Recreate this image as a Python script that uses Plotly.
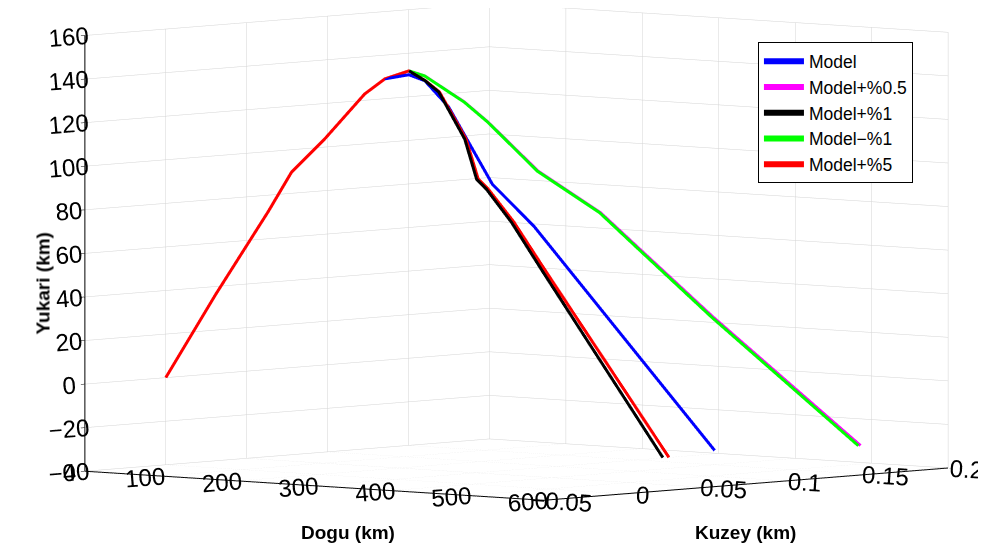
import plotly.graph_objects as go

# ---- data (km) ----
ascent_dogu = [0.0, 65.9, 134.2, 164.4, 207.7, 260.2, 286.5, 318.0]
ascent_kuzey = [0.0, 0.0, 0.0, 0.0, 0.0, 0.0, 0.0, 0.0]
ascent_yukari = [0.0, 40.0, 79.3, 97.9, 114.1, 136.0, 143.5, 147.9]

model_dogu = [318.0, 330.6, 349.3, 384.0, 417.1, 560.0]
model_kuzey = [0.0, 0.0039, 0.0097, 0.0204, 0.0305, 0.0746]
model_yukari = [146.1, 143.4, 131.5, 96.1, 76.9, -25.4]

p1_dogu = [333.2, 346.5, 371.1, 382.4, 392.0, 415.8, 444.3, 560.0]
p1_kuzey = [0.0027, 0.0050, 0.0094, 0.0114, 0.0130, 0.0172, 0.0222, 0.0426]
p1_yukari = [143.6, 138.5, 117.2, 98.9, 94.4, 79.5, 58.2, -26.8]

p5_dogu = [333.2, 346.5, 371.1, 382.4, 392.0, 415.8, 444.3, 560.0]
p5_kuzey = [0.0029, 0.0054, 0.0102, 0.0124, 0.0141, 0.0187, 0.0241, 0.0463]
p5_yukari = [143.6, 138.5, 117.2, 98.9, 94.4, 79.5, 58.2, -26.9]

m1_dogu = [326.5, 347.8, 360.4, 387.2, 420.6, 441.9, 480.5, 560.0]
m1_kuzey = [0.0057, 0.0201, 0.0288, 0.0467, 0.0693, 0.0837, 0.1100, 0.1634]
m1_yukari = [145.4, 133.0, 123.5, 100.6, 81.0, 63.6, 32.1, -28.5]

p05_dogu = [326.5, 347.8, 360.4, 387.2, 420.6, 441.9, 480.5, 560.0]
p05_kuzey = [0.0058, 0.0203, 0.0290, 0.0471, 0.0698, 0.0844, 0.1109, 0.1647]
p05_yukari = [145.4, 133.0, 123.5, 100.6, 81.0, 63.6, 32.1, -28.5]

dogu_ticks = [0, 100, 200, 300, 400, 500, 600]
dogu_labels = ["0", "100", "200", "300", "400", "500", "600"]
kuzey_ticks = [-0.05, 0, 0.05, 0.1, 0.15, 0.2]
kuzey_labels = ["\u22120.05", "0", "0.05", "0.1", "0.15", "0.2"]
yukari_ticks = [-40, -20, 0, 20, 40, 60, 80, 100, 120, 140, 160]
yukari_labels = ["\u221240", "\u221220", "0", "20", "40", "60", "80", "100", "120", "140", "160"]

FONT = "Liberation Sans, Arial, Helvetica, sans-serif"

series = [
    ("Model", "#0000ff", ascent_dogu[:7] + model_dogu, ascent_kuzey[:7] + model_kuzey, ascent_yukari[:7] + model_yukari, 1),
    ("Model+%0.5", "#ff00ff", ascent_dogu + p05_dogu, ascent_kuzey + p05_kuzey, ascent_yukari + p05_yukari, 2),
    ("Model+%1", "#000000", ascent_dogu + p1_dogu, ascent_kuzey + p1_kuzey, ascent_yukari + p1_yukari, 3),
    ("Model\u2212%1", "#00ff00", ascent_dogu + m1_dogu, ascent_kuzey + m1_kuzey, ascent_yukari + m1_yukari, 4),
    ("Model+%5", "#ff0000", ascent_dogu + p5_dogu, ascent_kuzey + p5_kuzey, ascent_yukari + p5_yukari, 5),
]

fig = go.Figure()
for name, color, xs, ys, zs, rank in series:
    fig.add_trace(go.Scatter3d(x=xs, y=ys, z=zs, mode="lines", name=name,
                               line=dict(color=color, width=6), legendrank=rank,
                               hoverinfo="skip"))

axis_common = dict(showbackground=False, gridcolor="#d4d4d4", gridwidth=1,
                   showline=True, linecolor="black", linewidth=2,
                   ticks="outside", tickcolor="black", ticklen=6,
                   zeroline=False, showspikes=False, title=dict(text=""),
                   tickfont=dict(family=FONT, size=17, color="black"))

k = 2.210
cz = -0.1235
fig.update_layout(
    width=986, height=556,
    margin=dict(l=0, r=0, t=0, b=0),
    paper_bgcolor="white",
    font=dict(family=FONT, color="black"),
    scene=dict(
        domain=dict(x=[0.0314, 1.0], y=[0.0, 1.0]),
        xaxis=dict(range=[0, 600], tickvals=dogu_ticks, ticktext=dogu_labels, **axis_common),
        yaxis=dict(range=[-0.05, 0.2], tickvals=kuzey_ticks, ticktext=kuzey_labels, **axis_common),
        zaxis=dict(range=[-40, 160], tickvals=yukari_ticks, ticktext=yukari_labels, **axis_common),
        aspectmode="manual",
        aspectratio=dict(x=1.0 * k, y=0.99 * k, z=0.711 * k),
        camera=dict(eye=dict(x=0.6633 * 2, y=-0.7447 * 2, z=0.0711 * 2 + cz),
                    up=dict(x=0, y=0, z=1), center=dict(x=0.0, y=0.0, z=cz),
                    projection=dict(type="orthographic")),
    ),
    legend=dict(x=0.7606, y=0.938, xanchor="left", yanchor="top", bgcolor="white",
                bordercolor="black", borderwidth=1, font=dict(family=FONT, size=17.5),
                tracegroupgap=0, itemwidth=40),
    annotations=[
        dict(text="<b>Yukari (km)</b>", x=22 / 986, y=1 - 276 / 556, xref="paper", yref="paper",
             textangle=-90, showarrow=False, font=dict(size=19, family=FONT)),
        dict(text="<b>Dogu (km)</b>", x=291 / 986, y=1 - 537 / 556, xref="paper", yref="paper",
             showarrow=False, font=dict(size=19, family=FONT)),
        dict(text="<b>Kuzey (km)</b>", x=790 / 986, y=1 - 537 / 556, xref="paper", yref="paper",
             showarrow=False, font=dict(size=19, family=FONT)),
    ],
)

fig.write_html("out.html")
